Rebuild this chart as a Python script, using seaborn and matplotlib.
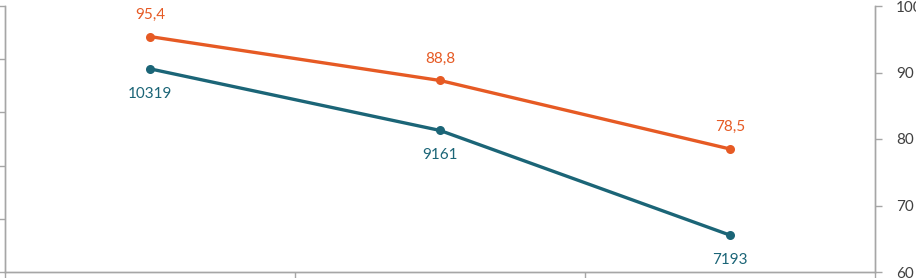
import matplotlib
matplotlib.use("Agg")
import matplotlib.pyplot as plt
import seaborn as sns
import numpy as np

categories = ["A", "B", "C"]
count_values = [10319, 9161, 7193]
score_values = [95.4, 88.8, 78.5]
right_ticks = [60, 70, 80, 90, 100]
left_ticks = [6500, 7500, 8500, 9500, 10500, 11500]

teal = "#1b6577"
orange = "#e65a24"
grey = "#a6a6a6"

sns.set_theme(style="white")
plt.rcParams["font.family"] = ["Lato", "DejaVu Sans"]

fig = plt.figure(figsize=(9.16, 2.78), dpi=100)
ax = fig.add_axes([5 / 916, 6 / 278, 870 / 916, 266 / 278])
ax2 = ax.twinx()

pos = np.arange(len(categories))
sns.lineplot(x=pos, y=count_values, ax=ax, color=teal, linewidth=2.4,
             marker="o", markersize=6.5, markeredgewidth=0)
sns.lineplot(x=pos, y=score_values, ax=ax2, color=orange, linewidth=2.4,
             marker="o", markersize=6.5, markeredgewidth=0)

ax.set_xlim(-0.5, len(categories) - 0.5)
ax.set_ylim(left_ticks[0], left_ticks[-1])
ax.set_yticks(left_ticks)
ax.set_yticklabels([])
ax.set_xticks(np.arange(len(categories) + 1) - 0.5)
ax.set_xticklabels([])
ax2.set_ylim(right_ticks[0], right_ticks[-1])
ax2.set_yticks(right_ticks)
ax2.set_yticklabels([str(t) for t in right_ticks], fontsize=11, color="#404040")

for a in (ax, ax2):
    a.spines["top"].set_visible(False)
    for s in ("left", "right", "bottom"):
        a.spines[s].set_color(grey)
        a.spines[s].set_linewidth(1.0)
    a.tick_params(axis="both", direction="out", length=5, width=1.0, color=grey)
    a.grid(False)
ax.tick_params(axis="x", bottom=True)
ax.tick_params(axis="y", left=True)
ax2.tick_params(axis="y", right=True, pad=10)
ax.patch.set_alpha(0)

for x, v in zip(pos, count_values):
    ax.annotate(str(v), (x, v), xytext=(0, -25), textcoords="offset pixels",
                ha="center", va="center", fontsize=11, color=teal)
for x, v in zip(pos, score_values):
    ax2.annotate(f"{v:.1f}".replace(".", ","), (x, v), xytext=(0, 22),
                 textcoords="offset pixels", ha="center", va="center",
                 fontsize=11, color=orange)

fig.savefig("out.png", dpi=100)
